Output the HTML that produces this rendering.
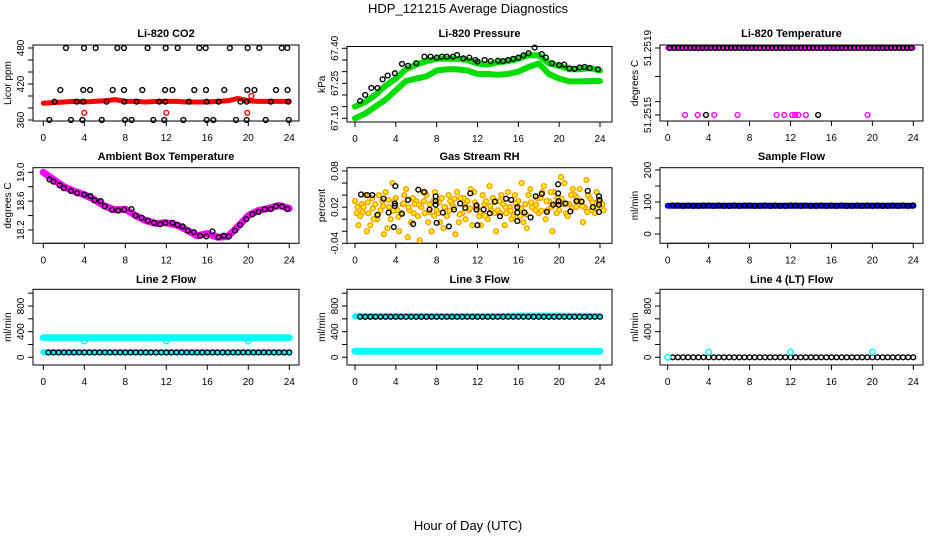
<!DOCTYPE html>
<html><head><meta charset="utf-8"><style>
html,body{margin:0;padding:0;background:#fff;}
svg{display:block;font-family:"Liberation Sans",sans-serif;}
</style></head><body>
<svg id="chart" width="936" height="540" viewBox="0 0 936 540" xmlns="http://www.w3.org/2000/svg">
<rect width="936" height="540" fill="#fff"/>
<text x="468" y="13" font-size="13" text-anchor="middle">HDP_121215  Average Diagnostics</text>
<text x="468" y="530" font-size="13" text-anchor="middle">Hour of Day (UTC)</text>
</svg>
<script>
// ---- data ----
const xTicks = [0,4,8,12,16,20,24];
const co2Band = [388,389,390,391,390,391,392,394,391,391,390,391,391,391,390,390,390,391,392,396,392,391,391,391,391];
const co2LowHours = [0.59,2.70,3.81,5.70,7.97,8.62,10.73,11.8,13.66,15.94,16.59,18.8,19.84,21.7,23.95];
const co2HighHours = [2.21,3.97,5.11,7.22,7.87,10.18,11.94,13.11,15.22,15.84,18.2,19.93,21.07,23.26,23.8];
const co2MidHours = [1.66,3.9,4.56,6.77,7.87,9.66,11.88,12.6,14.73,15.87,17.66,19.9,20.6,22.7,23.83];
const co2BandHours = [1.1,3.26,3.9,6.17,7.9,9.1,11.3,11.9,14.2,15.94,17.1,19.25,19.84,22.2,23.9];
const co2Low = 360, co2High = 480, co2Mid = 410, co2OnBand = 390.5;
const co2RedHours = [4.0,12.0,19.9,20.3];
const co2RedVals = [372,372,372,400];

const pressHours = [0.5,1,1.6,2.2,2.7,3.2,3.9,4.6,5.2,6,6.8,7.4,8,8.5,9,9.6,10,10.6,11.2,11.8,12,12.7,13.3,14,14.5,15,15.5,16,16.5,17,17.6,18.3,18.7,19.3,20,20.5,21,21.5,22,22.5,23,23.8];
const pressBlack = [67.174,67.20,67.23,67.23,67.267,67.283,67.293,67.333,67.325,67.336,67.364,67.364,67.36,67.364,67.364,67.364,67.371,67.357,67.36,67.35,67.343,67.35,67.345,67.347,67.345,67.35,67.355,67.36,67.37,67.379,67.403,67.375,67.36,67.336,67.328,67.33,67.314,67.312,67.318,67.32,67.315,67.31];
const pressUpper = [67.15,67.17,67.20,67.24,67.27,67.31,67.33,67.345,67.355,67.355,67.355,67.35,67.335,67.33,67.34,67.345,67.355,67.37,67.37,67.335,67.325,67.31,67.31,67.315,67.305];
const pressLower = [67.10,67.12,67.15,67.18,67.22,67.26,67.27,67.28,67.305,67.31,67.31,67.305,67.29,67.29,67.287,67.29,67.30,67.32,67.335,67.29,67.27,67.258,67.258,67.26,67.26];

const tempTopHours = [0.2,0.6,1,1.4,1.8,2.2,2.6,3,3.4,3.8,4.2,4.6,5,5.4,5.8,6.2,6.6,7,7.4,7.8,8.2,8.6,9,9.4,9.8,10.2,10.6,11,11.4,11.8,12.2,12.6,13,13.4,13.8,14.2,14.6,15,15.4,15.8,16.2,16.6,17,17.4,17.8,18.2,18.6,19,19.4,19.8,20.2,20.6,21,21.4,21.8,22.2,22.6,23,23.4,23.8];
const tempTop = 51.2519;
const tempMagLowHours = [1.69,2.93,4.55,6.83,10.64,11.39,12.17,12.45,12.76,13.5,19.53];
const tempBlackLowHours = [3.74,14.7];
const tempLow = 51.2515;

const ambHours = [0.6,1,1.6,2,2.7,3.3,4,4.6,5,5.6,6,6.7,7.3,7.9,8.6,9,9.6,10.2,10.8,11.4,11.9,12.6,13.1,13.6,14.1,14.7,15.3,15.9,16.5,17.1,17.6,18.1,18.7,19.2,19.8,20.4,21,21.6,22.2,22.7,23.3,23.8];
const ambBlack = [18.90,18.87,18.82,18.78,18.74,18.71,18.69,18.67,18.61,18.60,18.53,18.48,18.47,18.48,18.49,18.40,18.37,18.33,18.30,18.28,18.30,18.30,18.27,18.25,18.19,18.17,18.12,18.11,18.18,18.10,18.12,18.11,18.19,18.27,18.35,18.42,18.45,18.49,18.49,18.53,18.53,18.49];
const ambBand = [19.0,18.9,18.8,18.74,18.69,18.62,18.53,18.48,18.49,18.4,18.33,18.29,18.3,18.27,18.2,18.12,18.15,18.1,18.11,18.25,18.4,18.47,18.5,18.54,18.5];

const rhHours = [0,0.5,1,1.5,2,2.5,3,3.5,4,4.5,5,5.5,6,6.5,7,7.5,8,8.5,9,9.5,10,10.5,11,11.5,12,12.5,13,13.5,14,14.5,15,15.5,16,16.5,17,17.5,18,18.5,19,19.5,20,20.5,21,21.5,22,22.5,23,23.5,24];
const rhA = [0.030,0.005,0.040,-0.010,0.025,0.015,0.045,0.000,0.035,0.010,0.050,-0.005,0.030,0.020,0.040,-0.020,0.015,0.035,0.005,0.025,0.045,0.010,0.030,-0.010,0.020,0.040,0.000,0.035,0.015,0.025,0.045,0.005,0.030,-0.005,0.040,0.020,0.010,0.055,0.030,0.045,0.015,0.060,0.025,0.040,0.050,0.020,0.035,0.010,0.030];
const rhB = [0.010,0.025,-0.020,0.035,0.000,0.030,-0.015,0.060,0.015,0.025,-0.030,0.035,0.005,0.045,-0.005,0.030,0.010,-0.015,0.040,0.020,-0.005,0.035,0.015,0.045,0.005,0.025,0.055,0.010,0.030,-0.010,0.020,0.040,0.005,0.025,0.050,0.015,0.035,0.000,0.045,0.025,0.070,0.010,0.040,0.020,0.030,0.065,0.015,0.045,0.025];
const rhC = [-0.010,0.020,0.010,0.000,0.040,-0.025,0.020,0.030,-0.020,0.040,0.015,0.025,-0.035,0.010,0.025,0.045,-0.005,0.020,0.030,-0.025,0.035,0.000,0.050,0.020,-0.010,0.030,0.015,-0.020,0.040,0.010,0.000,0.025,0.060,-0.015,0.020,0.035,0.045,0.015,-0.020,0.035,0.025,0.005,0.050,0.030,-0.005,0.040,0.020,0.030,0.015];
const rhD = [0.020,0.012,0.028,0.018,0.008,0.022,0.032,0.014,0.004,0.026,0.020,0.010,0.024,0.030,0.012,0.006,0.028,0.020,0.014,0.034,0.008,0.024,0.018,0.028,0.012,0.006,0.022,0.030,0.010,0.020,0.014,0.026,0.018,0.008,0.028,0.024,0.014,0.030,0.020,0.010,0.034,0.026,0.018,0.036,0.022,0.012,0.028,0.020,0.024];
const rhBlackHours = [0.59,1.2,1.7,2.2,2.8,3.3,3.9,3.9,3.95,3.8,4.6,5.2,5.7,6.2,6.8,7.3,7.9,7.9,7.9,8.0,8.6,9.2,9.7,10.3,10.8,11.3,11.9,11.9,12.0,12.6,13.2,13.7,14.2,14.8,15.3,15.9,15.9,15.9,16.6,17.2,17.7,18.3,18.8,19.4,19.9,19.9,19.95,19.95,20.6,21.1,21.7,22.2,22.8,23.3,23.9,23.9,23.9,23.95];
const rhBlack = [0.041,0.040,0.040,0.007,0.034,0.011,0.026,0.022,0.055,-0.013,0.009,0.032,-0.008,0.049,0.045,0.016,0.038,0.030,0.024,-0.006,0.011,-0.012,0.016,0.026,0.019,0.043,0.023,0.016,-0.010,0.016,0.010,0.029,0.005,0.034,0.032,0.020,0.011,-0.003,0.011,0.003,0.038,0.042,0.012,0.024,0.058,0.043,0.030,0.024,0.026,0.013,0.030,0.029,0.047,0.020,0.038,0.024,0.012,0.032];

const halfHours = [0.5,1,1.5,2,2.5,3,3.5,4,4.5,5,5.5,6,6.5,7,7.5,8,8.5,9,9.5,10,10.5,11,11.5,12,12.5,13,13.5,14,14.5,15,15.5,16,16.5,17,17.5,18,18.5,19,19.5,20,20.5,21,21.5,22,22.5,23,23.5,24];
const bandHours = [0,1,2,3,4,5,6,7,8,9,10,11,12,13,14,15,16,17,18,19,20,21,22,23,24];
const sflowBlack = [89,89,88,89,88,88,89,89,88,89,88,88,89,88,89,89,88,88,89,88,89,88,88,89,89,88,89,88,88,89,88,89,88,89,88,88,89,88,89,88,89,88,88,89,88,89,88,89];
const sflowBand = [88,88,88,88,88,88,88,88,88,88,88,88,88,88,88,88,88,88,88,88,88,88,88,88,88];
const line2Upper = [305,305,305,305,305,305,305,305,305,305,305,305,305,305,305,305,305,305,305,305,305,305,305,305,305];
const line2Lower = [80,80,80,80,80,80,80,80,80,80,80,80,80,80,80,80,80,80,80,80,80,80,80,80,80];
const line2Black = [75,75,75,75,75,75,75,75,75,75,75,75,75,75,75,75,75,75,75,75,75,75,75,75,75,75,75,75,75,75,75,75,75,75,75,75,75,75,75,75,75,75,75,75,75,75,75,75];
const line2DipHours = [4,12,20];
const line2Dips = [255,255,255];
const line3Upper = [640,640,640,640,640,640,640,640,640,640,640,640,640,640,640,645,650,650,650,650,650,645,645,645,640];
const line3Black = [632,632,632,632,632,632,632,632,632,632,632,632,632,632,632,632,632,632,632,632,632,632,632,632,632,632,632,632,632,632,632,632,632,632,632,632,632,632,632,632,632,632,632,632,632,632,632,632];
const line3Lower = [95,95,95,95,95,95,95,95,95,95,95,95,95,95,95,95,95,95,95,95,95,95,95,95,95];
const line4Black = [0,0,0,0,0,0,0,0,0,0,0,0,0,0,0,0,0,0,0,0,0,0,0,0,0,0,0,0,0,0,0,0,0,0,0,0,0,0,0,0,0,0,0,0,0,0,0,0];
const line4CyanHours = [0,4,12,20];
const line4Cyan = [0,80,80,80];

// ---- drawing ----
const svg = document.getElementById('chart');
const NS = 'http://www.w3.org/2000/svg';
function mk(tag, attrs, parent){
  const e = document.createElementNS(NS, tag);
  for (const k in attrs) e.setAttribute(k, attrs[k]);
  (parent||svg).appendChild(e);
  return e;
}
function panel(c){
  const g = mk('g', {});
  
  
  const sx = h => c.x0 + h*(c.x24-c.x0)/24;
  const sy = v => c.p1 + (v-c.v1)*(c.p2-c.p1)/(c.v2-c.v1);
  const t = mk('text', {x:(c.l+c.r)/2, y:c.ty, 'font-size':11, 'font-weight':'bold', 'text-anchor':'middle'}, g);
  t.textContent = c.title;
  
  
  const yl = mk('text', {x:0, y:0, 'font-size':10, 'text-anchor':'middle', transform:`translate(${c.l-22},${(c.t+c.b)/2}) rotate(-90)`}, g);
  yl.textContent = c.ylab;
  
  
  const xa = mk('g', {stroke:'#000','stroke-width':1}, g);
  
  
  mk('line', {x1:sx(0), x2:sx(24), y1:c.b, y2:c.b}, xa);
  xTicks.forEach(h => {
    mk('line', {x1:sx(h), x2:sx(h), y1:c.b, y2:c.b+5}, xa);
    const tx = mk('text', {x:sx(h), y:c.b+20, 'font-size':10, 'text-anchor':'middle', stroke:'none'}, xa);
    tx.textContent = h;
  });
  const ya = mk('g', {stroke:'#000','stroke-width':1}, g);
  
  
  mk('line', {x1:c.l, x2:c.l, y1:sy(c.ticks[0]), y2:sy(c.ticks[c.ticks.length-1])}, ya);
  c.ticks.forEach((v,i) => {
    mk('line', {x1:c.l-5, x2:c.l, y1:sy(v), y2:sy(v)}, ya);
    if (c.labels[i]) {
      const ty = mk('text', {x:0, y:0, 'font-size':10, 'text-anchor':'middle', stroke:'none', transform:`translate(${c.l-9},${sy(v)}) rotate(-90)`}, ya);
      ty.textContent = c.labels[i];
    }
  });
  const box = mk('rect', {x:c.l, y:c.t, width:c.r-c.l, height:c.b-c.t, fill:'none', stroke:'#000', 'stroke-width':1}, g);
  
  
  return {g, sx, sy};
}
function band(p, hours, vals, color, w, name){
  const pts = hours.map((h,i)=>p.sx(h).toFixed(1)+','+p.sy(vals[i]).toFixed(1)).join(' ');
  const e = mk('polyline', {points:pts, fill:'none', stroke:color, 'stroke-width':w, 'stroke-linejoin':'round', 'stroke-linecap':'round'}, p.g);
  
  
}
function circles(p, hours, vals, color, name, r, fill){
  const grp = mk('g', {}, p.g);
  
  
  hours.forEach((h,i)=>{
    const v = Array.isArray(vals) ? vals[i] : vals;
    mk('circle', {cx:p.sx(h), cy:p.sy(v), r:r||2.4, fill:fill||'none', stroke:color, 'stroke-width':1.4}, grp);
  });
}

const row = [{t:45,b:121,ty:37},{t:167.7,b:243.3,ty:160},{t:289.3,b:365,ty:283}];
const col = [{l:33,r:299,x0:43.3,x24:289.3},{l:347,r:612,x0:355,x24:600},{l:660,r:923,x0:667.7,x24:913.3}];
function cfg(ri,ci,o){ return Object.assign({}, row[ri], col[ci], o); }

// CO2
let p = panel(cfg(0,0,{name:'co2-panel',title:'Li-820 CO2',ylab:'Licor ppm',v1:360,p1:120,v2:480,p2:48,ticks:[360,380,400,420,440,460,480],labels:['360','','','420','','','480']}));
band(p, bandHours, co2Band, '#f00', 5, 'co2-red-band');
circles(p, co2LowHours, co2Low, '#000', 'co2-low-points');
circles(p, co2HighHours, co2High, '#000', 'co2-high-points');
circles(p, co2MidHours, co2Mid, '#000', 'co2-mid-points');
circles(p, co2BandHours, co2OnBand, '#000', 'co2-band-points');
circles(p, co2RedHours, co2RedVals, '#f00', 'co2-red-points');

// Pressure
p = panel(cfg(0,1,{t:46.5,b:122,name:'pressure-panel',title:'Li-820 Pressure',ylab:'kPa',v1:67.10,p1:118.3,v2:67.40,p2:48.3,ticks:[67.10,67.15,67.20,67.25,67.30,67.35,67.40],labels:['67.10','','','67.25','','','67.40']}));
band(p, bandHours, pressLower, '#0d0', 6, 'pressure-lower-band');
band(p, bandHours, pressUpper, '#0d0', 6, 'pressure-upper-band');
circles(p, pressHours, pressBlack, '#000', 'pressure-points');

// Li-820 Temperature
p = panel(cfg(0,2,{name:'li820-temperature-panel',title:'Li-820 Temperature',ylab:'degrees C',v1:51.2515,p1:115,v2:51.2519,p2:48,ticks:[51.2515,51.25158,51.25173,51.2519],labels:['51.2515','','','51.2519']}));
band(p, [0,24], [tempTop,tempTop], '#f0f', 5, 'temperature-band');
circles(p, tempTopHours, tempTop, '#000', 'temperature-top-points');
circles(p, tempMagLowHours, tempLow, '#f0f', 'temperature-magenta-low-points');
circles(p, tempBlackLowHours, tempLow, '#000', 'temperature-black-low-points');

// Ambient
p = panel(cfg(1,0,{name:'ambient-temperature-panel',title:'Ambient Box Temperature',ylab:'degrees C',v1:18.2,p1:230,v2:19.0,p2:172.3,ticks:[18.2,18.4,18.6,18.8,19.0],labels:['18.2','','18.6','','19.0']}));
band(p, bandHours, ambBand, '#f0f', 7, 'ambient-magenta-band');
circles(p, ambHours, ambBlack, '#000', 'ambient-points');

// RH
p = panel(cfg(1,1,{name:'rh-panel',title:'Gas Stream RH',ylab:'percent',v1:-0.04,p1:243.3,v2:0.08,p2:171,ticks:[-0.04,-0.02,0,0.02,0.04,0.06,0.08],labels:['-0.04','','','0.02','','','0.08']}));
circles(p, rhHours, rhA, '#f90', 'rh-cloud-a', 2.4, '#ff0');
circles(p, rhHours.map(h=>h+0.17), rhB, '#f90', 'rh-cloud-b', 2.4, '#ff0');
circles(p, rhHours.map(h=>h+0.33), rhC, '#f90', 'rh-cloud-c', 2.4, '#ff0');
circles(p, rhHours.map(h=>h+0.25), rhD, '#f90', 'rh-cloud-d', 2.4, '#ff0');
circles(p, rhBlackHours, rhBlack, '#000', 'rh-points');

// Sample flow
p = panel(cfg(1,2,{name:'sample-flow-panel',title:'Sample Flow',ylab:'ml/min',v1:0,p1:234,v2:200,p2:170,ticks:[0,50,100,150,200],labels:['0','','100','','200']}));
band(p, bandHours, sflowBand, '#00f', 6, 'sample-flow-band');
circles(p, halfHours, sflowBlack, '#000', 'sample-flow-points');

const flowTicks = [0,200,400,600,800,1000], flowLabels = ['0','','400','','800',''];
// Line 2
p = panel(cfg(2,0,{name:'line2-flow-panel',title:'Line 2 Flow',ylab:'ml/min',v1:0,p1:357.3,v2:800,p2:306,ticks:flowTicks,labels:flowLabels}));
band(p, bandHours, line2Upper, '#0ff', 7, 'line2-upper-band');
band(p, bandHours, line2Lower, '#0ff', 6, 'line2-lower-band');
circles(p, line2DipHours, line2Dips, '#0ff', 'line2-dip-points', 2.8);
circles(p, halfHours, line2Black, '#000', 'line2-points');

// Line 3
p = panel(cfg(2,1,{name:'line3-flow-panel',title:'Line 3 Flow',ylab:'ml/min',v1:0,p1:357.3,v2:800,p2:306,ticks:flowTicks,labels:flowLabels}));
band(p, bandHours, line3Upper, '#0ff', 6, 'line3-upper-band');
band(p, bandHours, line3Lower, '#0ff', 7, 'line3-lower-band');
circles(p, halfHours, line3Black, '#000', 'line3-points');

// Line 4
p = panel(cfg(2,2,{name:'line4-flow-panel',title:'Line 4 (LT) Flow',ylab:'ml/min',v1:0,p1:357.3,v2:800,p2:306,ticks:flowTicks,labels:flowLabels}));
circles(p, halfHours, line4Black, '#000', 'line4-points');
circles(p, line4CyanHours, line4Cyan, '#0ff', 'line4-cyan-points', 2.8);
</script>
</body></html>
